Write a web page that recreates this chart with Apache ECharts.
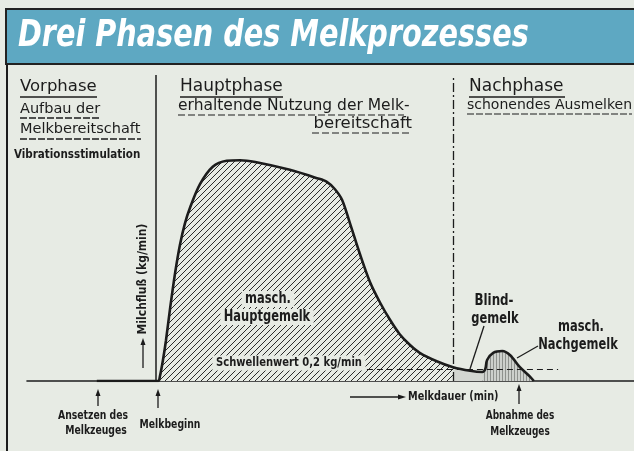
<!DOCTYPE html>
<html>
<head>
<meta charset="utf-8">
<script src="https://cdn.jsdelivr.net/npm/echarts@6/dist/echarts.min.js"></script>
<style>
  html, body { margin: 0; padding: 0; background: #e7ebe4; }
  #chart { width: 634px; height: 451px; }
</style>
</head>
<body>
<div id="chart"></div>
<script>
// Melkdauer (relative units) and Milchfluss (kg/min)
const melkdauer = [11.5, 21.6, 21.9, 22.4, 22.9, 23.6, 24.4, 25.2, 26.0, 26.9, 28.5, 30.6, 32.9, 35.1, 37.6,
  43.3, 47.8, 49.4, 50.7, 51.9, 53.2, 54.9, 56.5, 58.2, 59.8, 61.4, 63.1, 64.7, 67.5, 70.2, 73.0, 75.0,
  75.5, 75.8, 76.8, 78.3, 79.6, 81.2, 82.9, 83.5];
const milchfluss = [0, 0, 0.08, 0.35, 0.68, 1.23, 1.8, 2.27, 2.62, 2.9, 3.28, 3.57, 3.67, 3.68, 3.65,
  3.52, 3.38, 3.32, 3.2, 3.02, 2.63, 2.1, 1.65, 1.3, 1.02, 0.78, 0.6, 0.47, 0.33, 0.23, 0.17, 0.15,
  0.2, 0.35, 0.47, 0.5, 0.43, 0.23, 0.07, 0];
const phasenGrenzen = [21.25, 70.2];   // Vorphase | Hauptphase | Nachphase
const blindEnde = 75.0;                // start of masch. Nachgemelk
const schwellenwert = 0.2;             // kg/min
const schwelleBereich = [56.0, 87.5];

const BG = '#e7ebe4';
const INK = '#1c1c1c';
const COND = '"DejaVu Sans Condensed", "DejaVu Sans", sans-serif';
const WIDE = '"DejaVu Sans", sans-serif';
const SMOOTH = 0.3;

const points = melkdauer.map((x, i) => [x, milchfluss[i]]);
const hauptPts = points.filter(p => p[0] <= phasenGrenzen[1]);
const blindPts = points.filter(p => p[0] >= phasenGrenzen[1] && p[0] <= blindEnde);
const nachPts = points.filter(p => p[0] >= blindEnde);

function pattern(size, bg, draw) {
  const c = document.createElement('canvas');
  c.width = size; c.height = size;
  const ctx = c.getContext('2d');
  ctx.fillStyle = bg;
  ctx.fillRect(0, 0, size, size);
  draw(ctx, size);
  return { image: c, repeat: 'repeat' };
}

const diagHatch = pattern(6, BG, (ctx, s) => {
  ctx.strokeStyle = '#2b2b2b';
  ctx.lineWidth = 1;
  ctx.beginPath();
  ctx.moveTo(0, s); ctx.lineTo(s, 0);
  ctx.moveTo(-1, 1); ctx.lineTo(1, -1);
  ctx.moveTo(s - 1, s + 1); ctx.lineTo(s + 1, s - 1);
  ctx.stroke();
});

const vertHatch = pattern(3, '#cdd0cc', (ctx, s) => {
  ctx.fillStyle = '#8e918d';
  ctx.fillRect(1, 0, 1, s);
});

function txt(x, y, s, opt) {
  opt = opt || {};
  const el = {
    type: 'text', x: x, y: y, z: 100,
    style: {
      text: s,
      font: opt.font || ('15px ' + COND),
      fill: opt.fill || INK,
      textAlign: opt.align || 'left',
      textVerticalAlign: 'middle'
    }
  };
  if (opt.bg) { el.style.backgroundColor = opt.bg; el.style.padding = opt.pad || [1, 3]; }
  if (opt.rotation) el.rotation = opt.rotation;
  if (opt.sx) el.scaleX = opt.sx;
  return el;
}
function line(x1, y1, x2, y2, w, dash) {
  return {
    type: 'line', z: 100,
    shape: { x1: x1, y1: y1, x2: x2, y2: y2 },
    style: { stroke: INK, lineWidth: w || 1.2, lineDash: dash || null }
  };
}
function arrowUp(x, y1, y2) {   // y1 bottom, y2 tip
  return [line(x, y1, x, y2 + 5, 1.3),
    { type: 'polygon', z: 100, shape: { points: [[x - 2.5, y2 + 7], [x + 2.5, y2 + 7], [x, y2]] }, style: { fill: INK } }];
}
function arrowRight(x1, x2, y) {
  return [line(x1, y, x2 - 6, y, 1.3),
    { type: 'polygon', z: 100, shape: { points: [[x2 - 8, y - 2.5], [x2 - 8, y + 2.5], [x2, y]] }, style: { fill: INK } }];
}

const bold = s => 'bold ' + s + 'px ' + COND;
const reg = s => s + 'px ' + WIDE;

const graphics = [
  { type: 'rect', z: 90, shape: { x: 6, y: 9, width: 640, height: 55 },
    style: { fill: '#5ea8c2', stroke: '#222', lineWidth: 2 } },
  txt(18, 36, 'Drei Phasen des Melkprozesses',
    { font: 'italic bold 38px ' + COND, fill: '#ffffff', sx: 0.84 }),
  line(7, 64, 7, 451, 2),

  txt(20, 87, 'Vorphase', { font: reg(16.5) }),
  line(20, 97, 97, 97, 1.3),
  txt(20, 109, 'Aufbau der', { font: reg(14.5) }),
  line(20, 118, 100, 118, 1.3, [7, 2]),
  txt(20, 129, 'Melkbereitschaft', { font: reg(14.5) }),
  line(20, 139, 141, 139, 1.3, [7, 2]),
  txt(14, 155, 'Vibrationsstimulation', { font: bold(11.5) }),

  txt(180, 87, 'Hauptphase', { font: reg(17) }),
  line(180, 97, 283, 97, 1.3),
  txt(178, 106, 'erhaltende Nutzung der Melk-', { font: reg(15.5) }),
  line(178, 115, 404, 115, 1.2, [7, 3]),
  txt(412, 124, 'bereitschaft', { font: reg(16.5), align: 'right' }),
  line(312, 133, 412, 133, 1.2, [7, 3]),

  txt(469, 87, 'Nachphase', { font: reg(17) }),
  line(469, 97, 565, 97, 1.3),
  txt(467, 105, 'schonendes Ausmelken', { font: reg(14) }),
  line(467, 114, 632, 114, 1.2, [7, 2]),

  txt(143, 279, 'Milchfluß (kg/min)', { font: bold(12), align: 'center', rotation: Math.PI / 2 }),
  ...arrowUp(143, 368, 338),

  txt(268, 299, 'masch.', { font: bold(15), align: 'center', sx: 0.85, bg: BG, pad: [1, 4, 0, 4] }),
  txt(267, 317, 'Hauptgemelk', { font: bold(15), align: 'center', sx: 0.85, bg: BG, pad: [0, 4, 1, 4] }),
  txt(289, 363, 'Schwellenwert 0,2 kg/min', { font: bold(12.5), align: 'center', sx: 0.89, bg: BG, pad: [1, 4] }),

  txt(494, 301, 'Blind-', { font: bold(15), align: 'center', sx: 0.88 }),
  txt(495, 319, 'gemelk', { font: bold(15), align: 'center', sx: 0.85 }),
  line(484, 326, 470, 369, 1.3),
  txt(581, 327, 'masch.', { font: bold(15), align: 'center', sx: 0.85 }),
  txt(578, 345, 'Nachgemelk', { font: bold(15), align: 'center', sx: 0.85 }),
  line(538, 346, 517, 358, 1.3),

  ...arrowUp(98, 406, 389),
  txt(93, 416, 'Ansetzen des', { font: bold(12), align: 'center', sx: 0.86 }),
  txt(96, 431, 'Melkzeuges', { font: bold(12), align: 'center', sx: 0.86 }),
  ...arrowUp(158, 408, 389),
  txt(170, 425, 'Melkbeginn', { font: bold(12), align: 'center', sx: 0.86 }),
  ...arrowRight(350, 406, 397),
  txt(408, 397, 'Melkdauer (min)', { font: bold(12), sx: 0.9 }),
  ...arrowUp(519, 404, 384),
  txt(520, 416, 'Abnahme des', { font: bold(12), align: 'center', sx: 0.83 }),
  txt(520, 432, 'Melkzeuges', { font: bold(12), align: 'center', sx: 0.83 })
];

const chart = echarts.init(document.getElementById('chart'));
chart.setOption({
  backgroundColor: BG,
  animation: false,
  grid: { left: 27, right: 0, top: 75, bottom: 70 },
  xAxis: {
    type: 'value', min: 0, max: 100,
    axisLine: { show: true, lineStyle: { color: INK, width: 1.6 } },
    axisTick: { show: false }, axisLabel: { show: false }, splitLine: { show: false }
  },
  yAxis: {
    type: 'value', min: 0, max: 5.1,
    axisLine: { show: false }, axisTick: { show: false },
    axisLabel: { show: false }, splitLine: { show: false }
  },
  graphic: graphics,
  series: [
    {
      type: 'line', data: hauptPts, smooth: SMOOTH, symbol: 'none', z: 2,
      lineStyle: { width: 0 }, areaStyle: { color: diagHatch, opacity: 1 }
    },
    {
      type: 'line', data: blindPts, smooth: SMOOTH, symbol: 'none', z: 2,
      lineStyle: { width: 0 }, areaStyle: { color: '#d3d6d1', opacity: 1 }
    },
    {
      type: 'line', data: nachPts, smooth: SMOOTH, symbol: 'none', z: 2,
      lineStyle: { width: 0 }, areaStyle: { color: vertHatch, opacity: 1 }
    },
    {
      type: 'line', data: points, smooth: SMOOTH, symbol: 'none', z: 5,
      lineStyle: { color: INK, width: 2.6 },
      markLine: {
        silent: true, symbol: 'none', label: { show: false }, animation: false,
        data: [
          { xAxis: phasenGrenzen[0], lineStyle: { color: INK, width: 1.5, type: 'solid' } },
          { xAxis: phasenGrenzen[1], lineStyle: { color: INK, width: 1.3, type: [9, 3, 2, 3] } },
          [
            { coord: [schwelleBereich[0], schwellenwert], lineStyle: { color: INK, width: 1.2, type: [6, 4] } },
            { coord: [schwelleBereich[1], schwellenwert] }
          ]
        ]
      }
    }
  ]
});
</script>
</body>
</html>
